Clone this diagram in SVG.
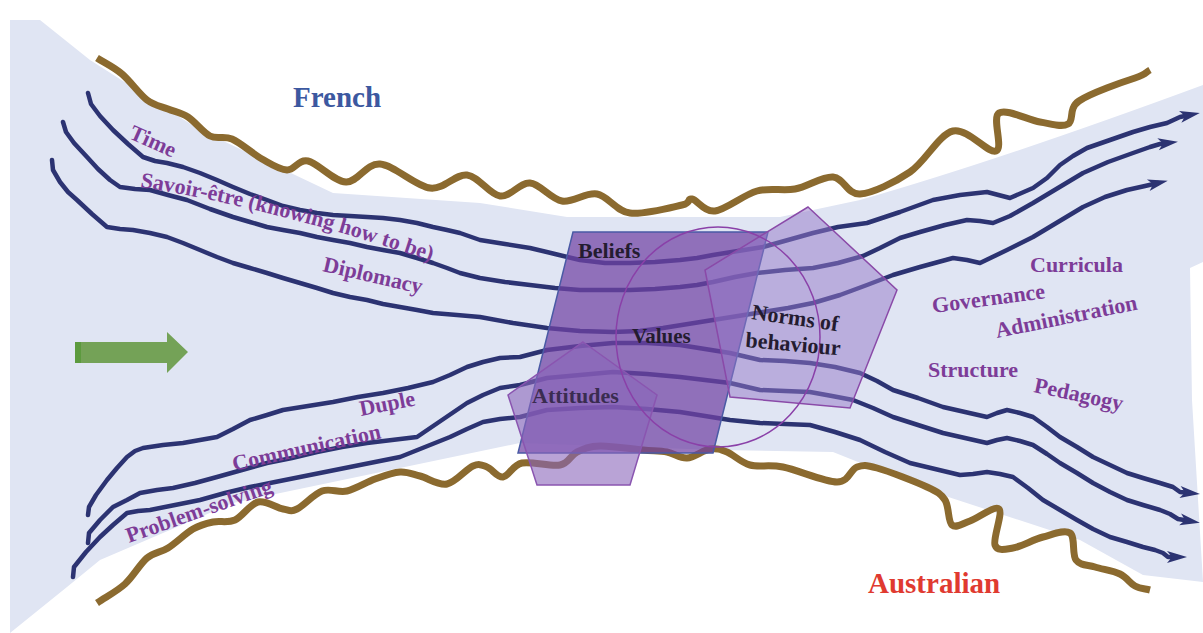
<svg xmlns="http://www.w3.org/2000/svg" width="1203" height="633" viewBox="0 0 1203 633">
<defs>
<style>
.flow{fill:none;stroke:#2c3372;stroke-width:4.5;stroke-linejoin:round;stroke-linecap:round;marker-end:url(#arr)}
.border{fill:none;stroke:#8b6a2f;stroke-width:7;stroke-linejoin:round;stroke-linecap:butt}
.lbl{font-family:"Liberation Serif","Times New Roman",serif;font-weight:bold;font-size:22px;fill:#7d3c98}
.dark{font-family:"Liberation Serif","Times New Roman",serif;font-weight:bold;font-size:22px;fill:#241c30}
.big{font-family:"Liberation Serif","Times New Roman",serif;font-weight:bold;font-size:29px}
</style>
<marker id="arr" viewBox="-12 -7 24 14" refX="0" refY="0" markerWidth="24" markerHeight="14" markerUnits="userSpaceOnUse" orient="auto">
<path d="M10,0 L-10,-6 L-5,0 L-10,6 Z" fill="#2c3372"/>
</marker>
<path id="p-savoir" d="M140,187 Q280,209 445,266"/>
</defs>
<rect width="1203" height="633" fill="#ffffff"/>
<g id="background">
<path d="M10,20 L40,20 L90,60 L200,130 L333,193 L480,203 L567,217 L780,217 L860,200 Q1000,160 1203,85 L1203,262 L1190,268 L1192,400 L1203,582 L1143,575 L1080,540 L933,492 L833,452 L717,450 L520,443 L233,503 L100,560 L67,587 L10,633 Z" fill="#e0e5f3"/>
</g>
<g id="boundaries">
<path class="border" d="M97,58 C105,63 113.7,67 122,74 S139.3,94.2 147,100 S161.2,106.2 168,109 S181,112.5 188,117 S202.7,132.3 210,136 S223.3,135.2 232,139 S252.8,153.8 262,159 S279.3,169.7 287,170 S298.2,159 308,161 S334,181.5 346,182 S366,163 380,164 S415.5,186.2 430,188 S455.3,173.7 467,175 S489.5,194.7 500,196 S519.7,182.2 530,183 S550.8,199.2 562,201 S585.7,192 597,194 S615.8,211.2 630,213 S671.7,207.3 682,205 S686.5,198 692,199 S704.2,212.3 715,211 S743.7,194.7 757,191 S782.3,191.3 795,189 S822.2,176.2 833,177 S847.2,194.8 860,194 S894.5,182.5 910,172 S938.7,134.5 953,131 S988.3,154 996,151 S991.7,117.8 999,113 S1028.5,120.2 1040,122 S1061.5,127.5 1068,124 S1067.8,108.7 1079,101 S1123.2,81.8 1135,78 S1145,72.7 1150,70"/>
<path class="border" d="M97,603 C106.3,596.7 116.7,591.5 125,584 S139.8,564 147,558 S160.3,552.8 168,548 S185.5,533.3 193,529 S206,523.5 213,522 S227.5,523.3 235,520 S250,503.8 258,502 S276.5,507.8 283,509 S290.5,512 297,509 S313.7,494 322,491 S338.2,493 347,491 S366.2,482.2 375,479 S392.5,472.5 400,472 S412.2,474 420,476 S438.2,485.7 447,484 S466.3,468.8 473,466 S482,465.2 487,467 S497.2,477.7 503,477 S512.5,465 522,463 S550.8,466.8 560,465 S570.3,455.2 577,452 S589,446.3 600,446 S631.8,449 643,450 S659.7,450.7 667,452 S679.8,458.5 687,458 S703.3,450 710,449 S720.3,449.3 727,452 S740.7,462.5 750,465 S768.5,464.2 783,467 S824.7,482 837,482 S850.3,469.3 857,467 S865.3,464.7 877,468 S915.7,481.7 927,487 S940.8,493.7 945,500 S947.8,521.5 952,525 S962.2,523.7 970,521 S994.8,505 999,509 S992.7,538.5 995,545 S1005,549.3 1013,548 S1033.5,539.5 1043,537 S1064.5,529.2 1070,533 S1071.8,554.3 1076,560 S1087.7,564.7 1095,567 S1113.3,570.8 1120,574 S1130,583.3 1135,586 S1145,588.7 1150,590"/>
</g>
<g id="connectors">
<polyline class="flow" points="88,93 91,104 100,116 113,130 128,144 143,157 155,161 167,163 183,167 200,173 217,180 233,187 250,194 267,200 283,206 300,210 317,213 333,215 350,216 367,217 383,218 400,220 417,223 433,227 447,230 460,233 480,240 505,244 530,248 555,254 580,260 605,263 630,263 655,262 680,260 697,258 713,255 738,251 763,247 788,240 813,233 838,227 867,223 900,212 933,200 960,195 987,192 1010,198 1033,188 1047,178 1060,165 1073,156 1087,148 1110,140 1133,132 1150,127 1167,123 1180,117 1190,115"/>
<polyline class="flow" points="63,122 66,132 74,143 87,157 98,169 110,180 120,187 135,189 150,190 168,195 187,200 210,209 233,217 250,222 267,227 283,230 300,233 317,237 333,240 350,243 367,247 383,250 400,253 417,258 433,263 447,268 460,273 480,278 505,282 530,285 555,288 580,290 605,290 630,290 655,289 680,287 697,285 713,282 735,277 757,273 785,270 813,268 838,263 863,256 880,248 900,238 920,232 945,225 967,220 980,221 993,223 1010,216 1033,203 1058,188 1083,173 1108,162 1133,153 1150,147 1160,144 1168,143"/>
<polyline class="flow" points="52,160 53,170 60,182 68,192 77,200 92,214 107,227 120,229 133,230 150,233 167,237 183,243 200,250 217,257 233,263 250,268 267,273 283,278 300,283 317,288 333,293 350,297 367,300 383,304 400,307 417,310 433,313 457,315 480,317 513,323 547,328 580,331 613,332 640,331 663,328 688,324 713,320 738,316 763,312 788,308 813,303 840,295 867,285 893,275 920,267 953,258 967,260 980,263 1007,250 1033,237 1058,222 1083,207 1105,197 1127,190 1145,186 1158,183"/>
<polyline class="flow" points="88,515 89,507 96,495 107,480 117,468 127,457 135,451 143,448 163,445 183,443 200,440 217,437 233,429 250,420 267,415 283,410 308,406 333,402 358,397 383,393 408,388 433,382 450,375 467,367 483,362 500,358 520,357 547,350 580,346 613,343 647,343 680,345 705,349 730,353 760,360 785,361 810,363 835,367 860,373 877,381 893,390 918,398 943,407 965,412 987,417 997,413 1007,410 1020,413 1033,417 1047,427 1060,437 1077,447 1093,457 1110,465 1127,473 1143,478 1160,483 1173,487 1180,492 1190,493"/>
<polyline class="flow" points="88,543 89,533 100,520 113,507 127,500 140,493 157,490 173,488 195,483 217,477 242,470 267,463 292,458 317,452 342,447 367,443 392,440 417,437 442,420 467,403 483,395 500,388 520,385 547,378 580,375 613,372 647,374 680,377 705,380 730,383 760,390 785,391 810,392 832,396 853,400 873,408 893,417 918,425 943,433 965,438 987,443 997,440 1007,438 1020,441 1033,445 1047,454 1060,463 1077,473 1093,483 1110,492 1127,500 1143,505 1160,510 1170,514 1178,519 1190,521"/>
<polyline class="flow" points="73,577 74,567 86,552 100,537 113,525 127,513 138,511 150,510 175,505 200,500 225,493 250,487 275,482 300,477 325,472 350,467 375,462 400,457 425,447 450,437 467,429 483,422 500,419 520,417 547,410 580,408 613,407 647,409 680,412 705,416 730,420 760,423 785,424 810,425 835,432 860,440 885,452 910,463 935,469 960,475 973,474 987,472 1000,474 1013,477 1028,488 1043,500 1060,510 1077,520 1093,529 1110,537 1127,542 1143,547 1155,550 1163,553 1168,557 1177,557"/>
</g>
<g id="node-arrow">
<polygon points="75,342 167,342 167,332 188,352 167,373 167,363 75,363" fill="#74a257"/>
<rect x="75" y="342" width="6" height="21" fill="#5c9a3e"/>
</g>
<g id="node-beliefs-values">
<polygon points="573,232 768,232 713,453 518,453" fill="#7042a4" fill-opacity="0.72" stroke="#4a5aa5" stroke-width="1.5"/>
</g>
<g id="node-attitudes">
<polygon points="583,342 657,395 630,485 537,485 508,395" fill="#8a66bb" fill-opacity="0.6" stroke="#8a55b0" stroke-width="1.5"/>
</g>
<g id="node-norms">
<polygon points="808,207 897,290 850,408 730,397 705,270" fill="#9478c8" fill-opacity="0.5" stroke="#8a4aa8" stroke-width="1.5"/>
</g>
<g id="node-values-circle">
<ellipse cx="718" cy="337" rx="102" ry="110" fill="none" stroke="#8a40a8" stroke-width="1.5"/>
</g>
<g id="labels">
<text class="big" x="293" y="107" fill="#3c58a0">French</text>
<text class="big" x="868" y="593" fill="#e03a30">Australian</text>
<text class="lbl" transform="translate(128,138) rotate(24)">Time</text>
<text class="lbl"><textPath href="#p-savoir">Savoir-être (knowing how to be)</textPath></text>
<text class="lbl" transform="translate(322,271) rotate(13)">Diplomacy</text>
<text class="lbl" transform="translate(361,416) rotate(-11)">Duple</text>
<text class="lbl" transform="translate(234,471) rotate(-12.5)">Communication</text>
<text class="lbl" transform="translate(129,543) rotate(-19.5)">Problem-solving</text>
<text class="lbl" x="1030" y="272">Curricula</text>
<text class="lbl" transform="translate(933,313) rotate(-7.5)">Governance</text>
<text class="lbl" transform="translate(997,338) rotate(-11.5)">Administration</text>
<text class="lbl" x="928" y="377">Structure</text>
<text class="lbl" transform="translate(1033,392) rotate(12)">Pedagogy</text>
<text class="dark" x="578" y="258">Beliefs</text>
<text class="dark" x="632" y="343" style="font-size:21px">Values</text>
<text class="dark" transform="translate(751,319) rotate(8)">Norms of</text>
<text class="dark" transform="translate(745,347) rotate(5)">behaviour</text>
<text class="dark" x="532" y="403" style="fill:#3a2c50">Attitudes</text>
</g>
</svg>
